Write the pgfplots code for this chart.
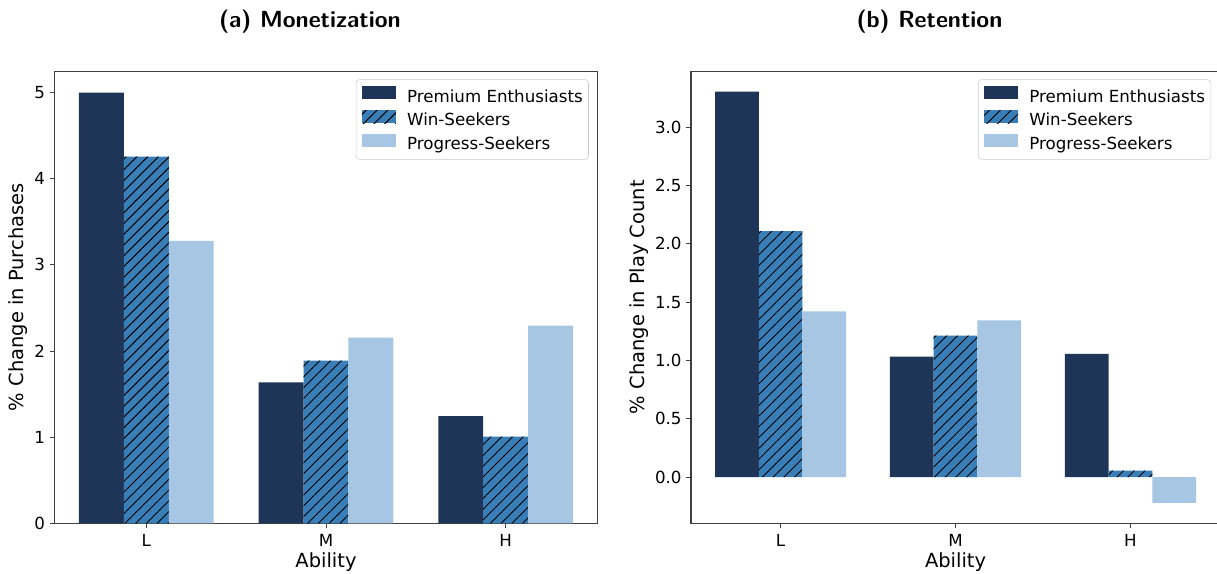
\documentclass[border=0pt]{standalone}
\usepackage{fontspec}
\setmainfont{DejaVu Sans}
\usepackage{pgfplots}
\pgfplotsset{compat=1.18}
\usetikzlibrary{patterns.meta}

\definecolor{navy}{HTML}{1F3557}
\definecolor{midblue}{HTML}{3A7EB8}
\definecolor{paleblue}{HTML}{A6C6E3}
\definecolor{spine}{HTML}{404040}

\pgfplotsset{
  panel/.style={
    ybar, bar width=0.25,
    scale only axis, height=339.2pt,
    xmin=-0.5125, xmax=2.5125,
    xtick={0,1,2}, xticklabels={L,M,H},
    tick pos=left, tick align=outside,
    major tick length=3.5pt,
    tick style={spine, line width=0.6pt},
    axis line style={spine, line width=0.8pt},
    tick label style={font=\fontsize{12.5}{15}\selectfont},
    xticklabel style={yshift=-1.5pt},
    /pgf/number format/assume math mode=true,
    label style={font=\fontsize{14.6}{17}\selectfont},
    xlabel={Ability},
    xlabel style={at={(axis description cs:0.5,0)}, anchor=base, yshift=-32.8pt},
    title style={font=\fontsize{17.5}{20}\selectfont\sffamily\bfseries,
      at={(axis description cs:0.5,1)}, anchor=base, yshift=26.3pt},
    legend style={at={(axis description cs:1,1)}, anchor=north east,
      xshift=-6.75pt, yshift=-6.2pt,
      draw=black!20, rounded corners=2.5pt, fill=white,
      font=\fontsize{12.5}{15}\selectfont,
      inner xsep=4.3pt, inner ysep=5.1pt,
      column sep=8.5pt, row sep=3.6pt,
      nodes={inner sep=0pt, text height=0.76em, text depth=0.24em},
      cells={anchor=west}},
    legend image code/.code={\fill[##1, sharp corners] (0pt,-0.6pt) rectangle (25.5pt,9.15pt);},
  },
  pe/.style={fill=navy, draw=none, bar shift=-0.25},
  ws/.style={fill=midblue, draw=none, bar shift=0,
    postaction={pattern={Lines[angle=45,distance=5.7pt,line width=0.7pt]}, pattern color=black}},
  ps/.style={fill=paleblue, draw=none, bar shift=0.25},
}

\begin{document}
\begin{tikzpicture}
\useasboundingbox (-40.7pt,-37.3pt) rectangle (872.0pt,392.5pt);

% (a) Monetization
\begin{axis}[panel, at={(0pt,0pt)}, anchor=south west, width=407.6pt,
  ymin=0, ymax=5.25, ytick={0,1,2,3,4,5},
  ylabel={\% Change in Purchases},
  ylabel style={at={(axis description cs:-0.0667,0.5)}, anchor=center},
  title={(a) Monetization}, title style={xshift=-12pt}]
\addplot[pe] coordinates {(0,5.00) (1,1.635) (2,1.245)};
\addplot[ws] coordinates {(0,4.256) (1,1.89) (2,1.007)};
\addplot[ps] coordinates {(0,3.28) (1,2.155) (2,2.294)};
\legend{Premium Enthusiasts, Win-Seekers, Progress-Seekers}
\end{axis}

% (b) Retention
\begin{axis}[panel, at={(477.5pt,0pt)}, anchor=south west, width=396.8pt,
  ymin=-0.396, ymax=3.481, ytick={0,0.5,1,1.5,2,2.5,3},
  yticklabel style={/pgf/number format/fixed, /pgf/number format/fixed zerofill,
    /pgf/number format/precision=1},
  ylabel={\% Change in Play Count},
  ylabel style={at={(axis description cs:-0.0983,0.5)}, anchor=center},
  title={(b) Retention}, title style={xshift=-19.5pt}]
\addplot[pe] coordinates {(0,3.305) (1,1.034) (2,1.057)};
\addplot[ws] coordinates {(0,2.108) (1,1.214) (2,0.057)};
\addplot[ps] coordinates {(0,1.42) (1,1.343) (2,-0.22)};
\legend{Premium Enthusiasts, Win-Seekers, Progress-Seekers}
\end{axis}
\end{tikzpicture}
\end{document}
